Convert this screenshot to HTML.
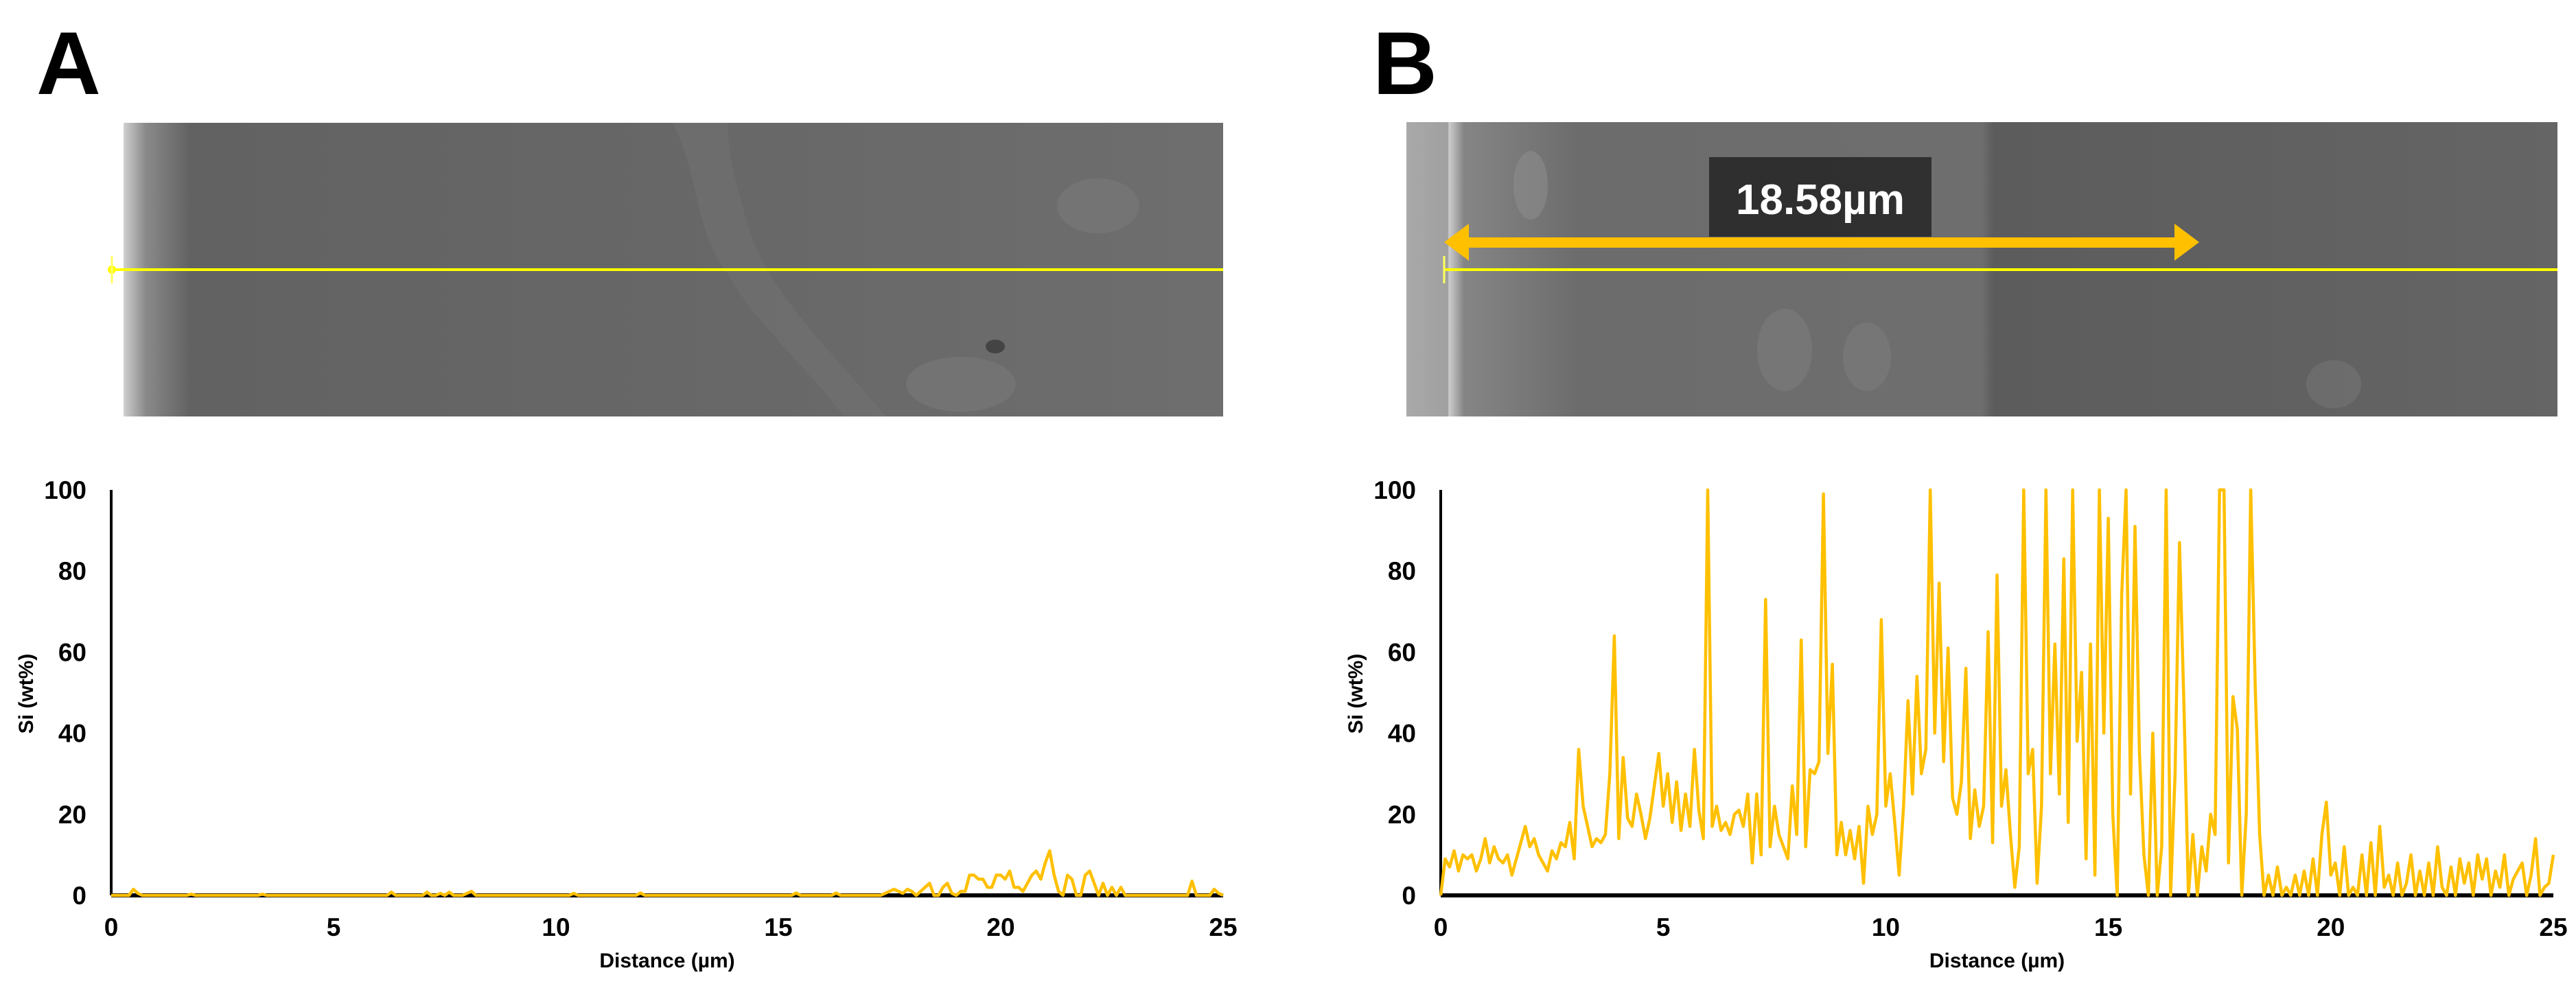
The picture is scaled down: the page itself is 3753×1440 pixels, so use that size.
<!DOCTYPE html>
<html>
<head>
<meta charset="utf-8">
<style>
html,body{margin:0;padding:0;background:#fff;}
body{width:3753px;height:1440px;overflow:hidden;position:relative;font-family:"Liberation Sans",Arial,sans-serif;}
svg{position:absolute;left:0;top:0;}
</style>
</head>
<body>
<svg id="fig" width="3753" height="1440" viewBox="0 0 3753 1440">
  <defs>
    <linearGradient id="gA" x1="0" x2="1" y1="0" y2="0">
      <stop offset="0" stop-color="#cfcfcf"/>
      <stop offset="0.02" stop-color="#8a8a8a"/>
      <stop offset="0.06" stop-color="#626262"/>
      <stop offset="0.5" stop-color="#676767"/>
      <stop offset="1" stop-color="#6e6e6e"/>
    </linearGradient>
    <linearGradient id="gB" x1="0" x2="1" y1="0" y2="0">
      <stop offset="0" stop-color="#a9a9a9"/>
      <stop offset="0.036" stop-color="#a0a0a0"/>
      <stop offset="0.037" stop-color="#cccccc"/>
      <stop offset="0.05" stop-color="#858585"/>
      <stop offset="0.15" stop-color="#6c6c6c"/>
      <stop offset="0.5" stop-color="#6e6e6e"/>
      <stop offset="0.51" stop-color="#5c5c5c"/>
      <stop offset="1" stop-color="#656565"/>
    </linearGradient>
  </defs>

  <text x="53" y="137" font-size="130" font-weight="bold" fill="#000">A</text>
  <text x="2000" y="137" font-size="130" font-weight="bold" fill="#000">B</text>

  <g>
    <rect x="180" y="179" width="1602" height="428" fill="url(#gA)"/>
    <path d="M980 179 C1020 260 1010 330 1060 400 C1100 470 1180 540 1230 607 L1290 607 C1220 520 1120 430 1090 330 C1070 260 1060 220 1060 179Z" fill="#777" opacity="0.35"/>
    <ellipse cx="1600" cy="300" rx="60" ry="40" fill="#7c7c7c" opacity="0.5"/>
    <ellipse cx="1400" cy="560" rx="80" ry="40" fill="#7c7c7c" opacity="0.5"/>
    <ellipse cx="1450" cy="505" rx="14" ry="10" fill="#2a2a2a" opacity="0.6"/>
  </g>
  <g>
    <line x1="163" y1="393" x2="1782" y2="393" stroke="#ffff00" stroke-width="4"/>
    <circle cx="163" cy="393" r="6" fill="#ffff00"/>
    <line x1="163" y1="373" x2="163" y2="413" stroke="#ffff60" stroke-width="3"/>
  </g>

  <g>
    <rect x="2049" y="178" width="1677" height="429" fill="url(#gB)"/>
    <ellipse cx="2230" cy="270" rx="25" ry="50" fill="#8c8c8c" opacity="0.6"/>
    <ellipse cx="2600" cy="510" rx="40" ry="60" fill="#808080" opacity="0.5"/>
    <ellipse cx="2720" cy="520" rx="35" ry="50" fill="#808080" opacity="0.5"/>
    <ellipse cx="3400" cy="560" rx="40" ry="35" fill="#777" opacity="0.5"/>
  </g>
  <rect x="2490" y="229" width="324" height="116" fill="#2a2a2a" opacity="0.92"/>
  <text x="2652" y="312" font-size="62" font-weight="bold" fill="#fff" text-anchor="middle">18.58µm</text>
  <g>
    <rect x="2135" y="346" width="1035" height="15" fill="#ffc000"/>
    <polygon points="2104,353 2140,326 2140,380" fill="#ffc000"/>
    <polygon points="3204,353 3168,326 3168,380" fill="#ffc000"/>
  </g>
  <g>
    <line x1="2104" y1="393" x2="3726" y2="393" stroke="#ffff00" stroke-width="4"/>
    <line x1="2104" y1="373" x2="2104" y2="413" stroke="#ffff60" stroke-width="3"/>
  </g>

  <g id="chartA"></g>
  <g id="chartB"></g>
</svg>
<script>
const yTicks = [0, 20, 40, 60, 80, 100];
const xTicks = [0, 5, 10, 15, 20, 25];
const sampleStep = 0.1;
const siA = [
0,0,0,0,0,1.5,0.5,0,0,0,
0,0,0,0,0,0,0,0,0.3,0,
0,0,0,0,0,0,0,0,0,0,
0,0,0,0,0.3,0,0,0,0,0,
0,0,0,0,0,0,0,0,0,0,
0,0,0,0,0,0,0,0,0,0,
0,0,0,0.8,0,0,0,0,0,0,
0,0.8,0,0,0.5,0,0.8,0,0,0,
0.5,1,0,0,0,0,0,0,0,0,
0,0,0,0,0,0,0,0,0,0,
0,0,0,0,0.5,0,0,0,0,0,
0,0,0,0,0,0,0,0,0,0.6,
0,0,0,0,0,0,0,0,0,0,
0,0,0,0,0,0,0,0,0,0,
0,0,0,0,0,0,0,0,0,0,
0,0,0,0,0.6,0,0,0,0,0,
0,0,0,0.6,0,0,0,0,0,0,
0,0,0,0,0.5,1,1.5,1,0.5,1.5,
1,0,1,2,3,0,0,2,3,0.5,
0,1,1,5,5,4,4,2,2,5,
5,4,6,2,2,1,3,5,6,4,
8,11,5,1,0,5,4,0,0,5,
6,3,0,3,0,2,0,2,0,0,
0,0,0,0,0,0,0,0,0,0,
0,0,0,3.5,0,0,0,0,1.5,0.5,
0];
const siB = [
0,9,7,11,6,10,9,10,6,9,
14,8,12,9,8,10,5,9,13,17,
12,14,10,8,6,11,9,13,12,18,
9,36,22,17,12,14,13,15,30,64,
14,34,19,17,25,20,14,19,27,35,
22,30,18,28,16,25,17,36,21,14,
100,17,22,16,18,15,20,21,17,25,
8,25,10,73,12,22,15,12,9,27,
15,63,12,31,30,33,99,35,57,10,
18,10,16,9,17,3,22,15,20,68,
22,30,18,5,22,48,25,54,30,36,
100,40,77,33,61,24,20,28,56,14,
26,17,22,65,13,79,22,31,15,2,
12,100,30,36,3,22,100,30,62,25,
83,18,100,38,55,9,62,5,100,40,
93,20,0,74,100,25,91,35,10,0,
40,0,12,100,0,30,87,47,0,15,
0,12,6,20,15,100,100,8,49,41,
0,20,100,52,15,0,5,0,7,0,
2,0,5,0,6,0,9,0,15,23,
5,8,0,12,0,2,0,10,0,13,
0,17,2,5,0,8,0,3,10,0,
6,0,8,0,12,2,0,7,0,9,
3,8,0,10,4,9,0,6,2,10,
0,4,6,8,0,5,14,0,2,3,
10];

const NS = 'http://www.w3.org/2000/svg';
function mk(tag, attrs, parent) {
  const e = document.createElementNS(NS, tag);
  for (const k in attrs) e.setAttribute(k, attrs[k]);
  parent.appendChild(e);
  return e;
}
function drawChart(g, data, x0, x1, suffix) {
  const yTop = 714, yBot = 1305;
  const xs = v => x0 + (v / 25) * (x1 - x0);
  const ys = v => yBot - (v / 100) * (yBot - yTop);
  const yAxis = mk('line', {x1: x0, y1: yTop, x2: x0, y2: yBot, stroke: '#000', 'stroke-width': 4}, g);
  
  
  const xAxis = mk('line', {x1: x0, y1: yBot, x2: x1, y2: yBot, stroke: '#000', 'stroke-width': 6}, g);
  
  
  yTicks.forEach(t => {
    const tx = mk('text', {x: x0 - 36, y: ys(t) + 13, 'font-size': 37, 'font-weight': 'bold', 'text-anchor': 'end', fill: '#000'}, g);
    tx.textContent = t;
    
    
  });
  xTicks.forEach(t => {
    const tx = mk('text', {x: xs(t), y: 1364, 'font-size': 37, 'font-weight': 'bold', 'text-anchor': 'middle', fill: '#000'}, g);
    tx.textContent = t;
    
    
  });
  const xt = mk('text', {x: (x0 + x1) / 2, y: 1410, 'font-size': 30, 'font-weight': 'bold', 'text-anchor': 'middle', fill: '#000'}, g);
  xt.textContent = 'Distance (µm)';
  
  
  const yt = mk('text', {x: 0, y: 0, 'font-size': 30, 'font-weight': 'bold', 'text-anchor': 'middle', fill: '#000', transform: 'translate(' + (x0 - 114) + ',1011) rotate(-90)'}, g);
  yt.textContent = 'Si (wt%)';
  
  
  const pts = data.map((v, i) => xs(i * sampleStep).toFixed(1) + ',' + ys(v).toFixed(1)).join(' ');
  const line = mk('polyline', {points: pts, fill: 'none', stroke: '#ffc000', 'stroke-width': 4.5, 'stroke-linejoin': 'round'}, g);
  
  
}
drawChart(document.getElementById('chartA'), siA, 162, 1782, 'a');
drawChart(document.getElementById('chartB'), siB, 2099, 3720, 'b');
</script>
</body>
</html>
